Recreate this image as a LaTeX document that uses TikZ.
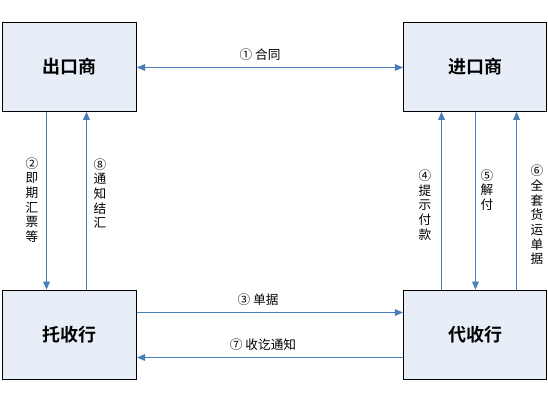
\documentclass[tikz,border=0pt]{standalone}
\usepackage{fontspec}
\newfontfamily\cjk{Noto Sans CJK SC}[BoldFont={Noto Sans CJK SC Bold}]
\usetikzlibrary{arrows.meta}
\definecolor{boxfill}{RGB}{232,238,248}
\definecolor{arrblue}{RGB}{74,126,187}
\begin{document}
\begin{tikzpicture}[x=0.75pt,y=-0.75pt,
  party/.style={draw=black, line width=0.8pt, fill=boxfill, inner sep=0pt,
    font=\cjk\bfseries\fontsize{13.5}{16}\selectfont, minimum height=66.75pt},
  arr/.style={draw=arrblue, line width=0.75pt, -{Triangle[length=6pt,width=5pt]}},
  darr/.style={draw=arrblue, line width=0.75pt, {Triangle[length=6pt,width=5pt]}-{Triangle[length=6pt,width=5pt]}},
  lbl/.style={font=\cjk\fontsize{9.5}{11}\selectfont, align=center, inner sep=0pt}]
\useasboundingbox (0,0) rectangle (548,400);
% boxes
\node[party, minimum width=100.5pt] (ex) at (69.5,66.75) {出口商};
\node[party, minimum width=107.25pt] (im) at (475,66.75) {进口商};
\node[party, minimum width=100.5pt] (tb) at (69.5,334.75) {托收行};
\node[party, minimum width=107.25pt] (cb) at (475,334.75) {代收行};
% helper coordinates
\coordinate (x2) at (46.5,0);
\coordinate (x8) at (86.5,0);
\coordinate (x4) at (441.5,0);
\coordinate (x5) at (475.5,0);
\coordinate (x6) at (516.5,0);
\coordinate (y1) at (0,67.5);
\coordinate (y3) at (0,312.5);
\coordinate (y7) at (0,357.5);
% connectors
\draw[darr] (ex.east |- y1) -- (im.west |- y1);
\draw[arr] (ex.south -| x2) -- (tb.north -| x2);
\draw[arr] (tb.north -| x8) -- (ex.south -| x8);
\draw[arr] (tb.east |- y3) -- (cb.west |- y3);
\draw[arr] (cb.west |- y7) -- (tb.east |- y7);
\draw[arr] (cb.north -| x4) -- (im.south -| x4);
\draw[arr] (im.south -| x5) -- (cb.north -| x5);
\draw[arr] (cb.north -| x6) -- (im.south -| x6);
% labels
\node[lbl] (l1) at (260,55) {① 合同};
\node[lbl] (l3) at (258,300) {③ 单据};
\node[lbl] (l7) at (263,345) {⑦ 收讫通知};
\node[lbl] (l2) at (32,200) {②\\即\\期\\汇\\票\\等};
\node[lbl] (l8) at (100,193.5) {⑧\\通\\知\\结\\汇};
\node[lbl] (l4) at (425,205) {④\\提\\示\\付\\款};
\node[lbl] (l5) at (487,190) {⑤\\解\\付};
\node[lbl] (l6) at (537,215) {⑥\\全\\套\\货\\运\\单\\据};
\end{tikzpicture}
\end{document}
